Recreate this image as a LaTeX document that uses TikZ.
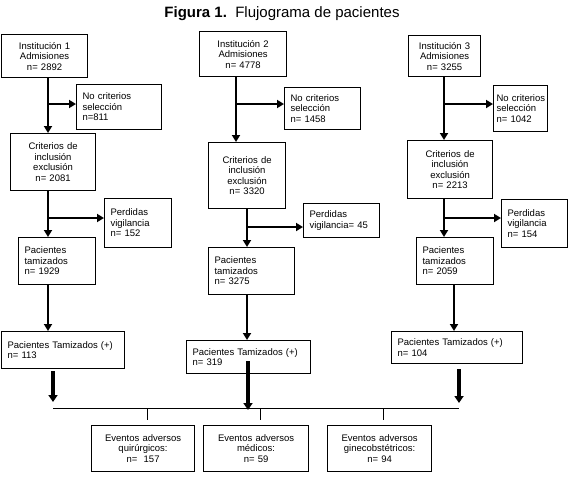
\documentclass[tikz,border=0pt]{standalone}
\usepackage{fontspec}
\setmainfont{Liberation Sans}
\usetikzlibrary{arrows.meta,positioning,calc}
\newcommand{\boxfont}{\fontsize{9.5}{10.5}\selectfont}
\hyphenpenalty=10000
\exhyphenpenalty=10000

\begin{document}
\begin{tikzpicture}[
    x=1pt, y=-1pt,
    box/.style={rectangle, draw=black, line width=1.1pt, anchor=north west, inner xsep=6pt, inner ysep=1pt, font=\boxfont},
    lbox/.style={box, align=left},
    cbox/.style={box, align=center},
    arrow/.style={-{Triangle[length=7pt,width=8pt]}, line width=2.8pt},
    bigarrow/.style={-{Triangle[length=7pt,width=9pt]}, line width=3.2pt},
    bar/.style={line width=0.9pt}
]
\useasboundingbox (0,0) rectangle (570,477);

% Title
\node[font=\fontsize{15}{18}\selectfont] (title) at (282,14) {\textbf{Figura 1.}\ \ Flujograma de pacientes};

% Institución 1
\node[cbox, text width=74pt, minimum height=43pt] (inst1) at (1,34) {
    Institución 1\\Admisiones\\n= 2892
};
\node[lbox, text width=73pt, minimum height=45pt] (nocrit1) at (76,84) {
    No criterios\\selección\\n=811
};
\node[cbox, text width=73pt, minimum height=57pt] (crit1) at (10,133) {
    Criterios de\\inclusión\\exclusión\\n= 2081
};
\node[lbox, text width=55pt, minimum height=49pt] (perd1) at (104,198) {
    Perdidas\\vigilancia\\n= 152
};
\node[lbox, text width=65pt, minimum height=47pt] (pactam1) at (18,237) {
    Pacientes\\tamizados\\n= 1929
};
\node[lbox, text width=111pt, minimum height=37pt] (pos1) at (1,331) {
    Pacientes Tamizados (+)\\n= 113
};

% Institución 2
\node[cbox, text width=75pt, minimum height=45pt] (inst2) at (199,31) {
    Institución 2\\Admisiones\\n= 4778
};
\node[lbox, text width=64pt, minimum height=42pt] (nocrit2) at (284,87) {
    No criterios\\selección\\n= 1458
};
\node[cbox, text width=65pt, minimum height=66pt] (crit2) at (208,142) {
    Criterios de\\inclusión\\exclusión\\n= 3320
};
\node[lbox, text width=64pt, minimum height=34pt] (perd2) at (303,203) {
    Perdidas\\vigilancia= 45
};
\node[lbox, text width=74pt, minimum height=47pt] (pactam2) at (208,247) {
    Pacientes\\tamizados\\n= 3275
};
\node[lbox, text width=112pt, minimum height=33pt] (pos2) at (186,340) {
    Pacientes Tamizados (+)\\n= 319
};

% Institución 3
\node[cbox, text width=60pt, minimum height=41pt] (inst3) at (408,35) {
    Institución 3\\Admisiones\\n= 3255
};
\node[lbox, inner xsep=3pt, text width=48pt, minimum height=46pt] (nocrit3) at (493,85) {
    \mbox{No criterios}\\selección\\n= 1042
};
\node[cbox, text width=73pt, minimum height=58pt] (crit3) at (407,140) {
    Criterios de\\inclusión\\exclusión\\n= 2213
};
\node[lbox, text width=54pt, minimum height=48pt] (perd3) at (501,199) {
    Perdidas\\vigilancia\\n= 154
};
\node[lbox, text width=65pt, minimum height=47pt] (pactam3) at (416,237) {
    Pacientes\\tamizados\\n= 2059
};
\node[lbox, text width=119pt, minimum height=32pt] (pos3) at (391,331) {
    Pacientes Tamizados (+)\\n= 104
};

% Eventos adversos
\node[cbox, text width=91pt, minimum height=46pt] (ev1) at (91,425) {
    Eventos adversos\\quirúrgicos:\\n= \ 157
};
\node[cbox, text width=93pt, minimum height=46pt] (ev2) at (203,425) {
    Eventos adversos\\médicos:\\n= 59
};
\node[cbox, text width=92pt, minimum height=46pt] (ev3) at (327,425) {
    Eventos adversos\\ginecobstétricos:\\n= 94
};

% Column lines
\coordinate (c1) at (48,0);
\coordinate (c2) at (236,0);
\coordinate (c2b) at (247,0);
\coordinate (c3) at (444,0);
\coordinate (c3b) at (454,0);

% Arrows column 1
\draw[arrow] (inst1.south -| c1) -- (crit1.north -| c1);
\draw[arrow] (48,104) coordinate (b1) -- (b1 -| nocrit1.west);
\draw[arrow] (crit1.south -| c1) -- (pactam1.north -| c1);
\draw[arrow] (48,218) coordinate (b2) -- (b2 -| perd1.west);
\draw[arrow] (pactam1.south -| c1) -- (pos1.north -| c1);

% Arrows column 2
\draw[arrow] (inst2.south -| c2) -- (crit2.north -| c2);
\draw[arrow] (236,104) coordinate (b3) -- (b3 -| nocrit2.west);
\draw[arrow] (crit2.south -| c2b) -- (pactam2.north -| c2b);
\draw[arrow] (247,227) coordinate (b4) -- (b4 -| perd2.west);
\draw[arrow] (pactam2.south -| c2b) -- (pos2.north -| c2b);

% Arrows column 3
\draw[arrow] (inst3.south -| c3) -- (crit3.north -| c3);
\draw[arrow] (444,104) coordinate (b5) -- (b5 -| nocrit3.west);
\draw[arrow] (crit3.south -| c3) -- (pactam3.north -| c3);
\draw[arrow] (444,218) coordinate (b6) -- (b6 -| perd3.west);
\draw[arrow] (pactam3.south -| c3b) -- (pos3.north -| c3b);

% Joining bar
\coordinate (barL) at (53,408);
\coordinate (barR) at (459,408);
\draw[bar] (barL) -- (barR);
\draw[bigarrow] ([yshift=-2pt]pos1.south -| barL) -- ([yshift=6pt]barL);
\draw[bigarrow] ([yshift=13pt]pos2.south -| 248,0) -- (248,410);
\draw[bigarrow] ([yshift=-5pt]pos3.south -| barR) -- ([yshift=5pt]barR);
\draw[bar] ([xshift=4pt]ev1.north |- barL) -- ([xshift=4pt,yshift=5pt]ev1.north);
\draw[bar] ([xshift=4pt]ev2.north |- barL) -- ([xshift=4pt,yshift=5pt]ev2.north);
\draw[bar] ([xshift=4pt]ev3.north |- barL) -- ([xshift=4pt,yshift=5pt]ev3.north);

\end{tikzpicture}
\end{document}
